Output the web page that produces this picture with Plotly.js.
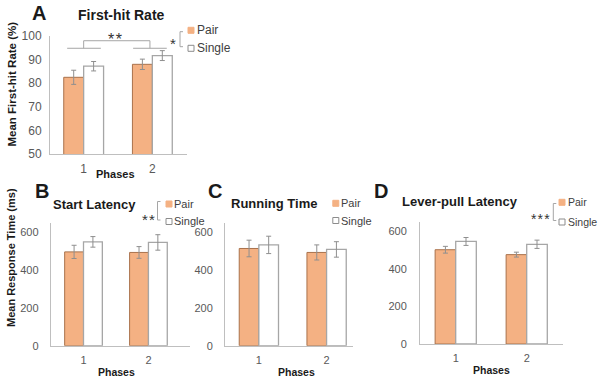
<!DOCTYPE html>
<html><head><meta charset="utf-8">
<script src="https://cdn.plot.ly/plotly-3.0.1.min.js"></script>
<style>html,body{margin:0;padding:0;background:#fff}</style>
</head><body><div id="chart" style="width:600px;height:378px"></div>
<script>
// ---- data ----
const phases = ['1', '2'];
const seriesNames = ['Pair', 'Single'];
// A: First-hit Rate (%)
const firstHitPair = [82.5, 88.0];
const firstHitPairErr = [3.0, 2.2];
const firstHitSingle = [87.2, 91.7];
const firstHitSingleErr = [2.0, 2.1];
// B: Start Latency (ms)
const startPair = [497, 494];
const startPairErr = [35, 31];
const startSingle = [550, 547];
const startSingleErr = [28, 41];
// C: Running Time (ms)
const runPair = [515, 494];
const runPairErr = [44, 40];
const runSingle = [534, 510];
const runSingleErr = [46, 41];
// D: Lever-pull Latency (ms)
const leverPair = [501, 475];
const leverPairErr = [18, 13];
const leverSingle = [545, 530];
const leverSingleErr = [21, 22];

// ---- styles ----
const FONT = 'Liberation Sans, Arial, sans-serif';
const PAIR_FILL = '#F4B183';
const PAIR_LINE = '#A9724C';
const SINGLE_LINE = '#A6A6A6';
const ERR = '#8F8F8F';
const AX = '#BFBFBF';
const TICK = '#595959';

const W = 600, H = 378;
const px = v => v / W;
const py = v => 1 - v / H;

function bars(n, pair, pairErr, single, singleErr) {
  const xa = 'x' + (n === 1 ? '' : n), ya = 'y' + (n === 1 ? '' : n);
  return [
    {type: 'bar', x: phases, y: pair, name: seriesNames[0], xaxis: xa, yaxis: ya, showlegend: false,
     marker: {color: PAIR_FILL, line: {color: PAIR_LINE, width: 1}},
     error_y: {type: 'data', array: pairErr, visible: true, color: ERR, thickness: 1, width: 2.5}},
    {type: 'bar', x: phases, y: single, name: seriesNames[1], xaxis: xa, yaxis: ya, showlegend: false,
     marker: {color: '#FFFFFF', line: {color: SINGLE_LINE, width: 1.3}},
     error_y: {type: 'data', array: singleErr, visible: true, color: ERR, thickness: 1, width: 2.5}}
  ];
}

const data = [
  ...bars(1, firstHitPair, firstHitPairErr, firstHitSingle, firstHitSingleErr),
  ...bars(2, startPair, startPairErr, startSingle, startSingleErr),
  ...bars(3, runPair, runPairErr, runSingle, runSingleErr),
  ...bars(4, leverPair, leverPairErr, leverSingle, leverSingleErr)
];

function xAxis(x0, x1, range, anchor, fs) {
  return {domain: [px(x0), px(x1)], anchor: anchor, type: 'category', range: range,
    showline: true, linecolor: AX, linewidth: 1, ticks: '', showgrid: false, zeroline: false,
    tickfont: {family: FONT, size: fs, color: TICK}, ticklabelstandoff: 4, fixedrange: true};
}
function yAxis(yTop, yBot, range, dtick, anchor, fs, standoff) {
  return {domain: [py(yBot), py(yTop)], anchor: anchor, range: range, dtick: dtick,
    showline: true, linecolor: AX, linewidth: 1, ticks: '', showgrid: false, zeroline: false,
    tickfont: {family: FONT, size: fs, color: TICK}, ticklabelstandoff: standoff, fixedrange: true};
}

function txt(x, y, text, size, opts) {
  return Object.assign({xref: 'paper', yref: 'paper', x: px(x), y: py(y), text: text,
    showarrow: false, xanchor: 'center', yanchor: 'middle',
    font: {family: FONT, size: size, color: '#1A1A1A'}}, opts || {});
}
function legText(x, y, text, size) {
  return txt(x - 1, y, text, size, {xanchor: 'left', font: {family: FONT, size: size, color: '#404040'}});
}
function star(x, y, text, size) {
  return txt(x, y, text, size, {yshift: -0.28 * size, font: {family: FONT, size: size, color: '#333333'}});
}

const annotations = [
  // panel letters
  txt(39, 13, '<b>A</b>', 20), txt(42, 191, '<b>B</b>', 20),
  txt(215, 191, '<b>C</b>', 20), txt(381, 191, '<b>D</b>', 20),
  // titles
  txt(121, 15, '<b>First-hit Rate</b>', 14),
  txt(94, 204, '<b>Start Latency</b>', 13),
  txt(274, 203, '<b>Running Time</b>', 13),
  txt(460, 201, '<b>Lever-pull Latency</b>', 13),
  // x titles
  txt(115, 174, '<b>Phases</b>', 11),
  txt(116.5, 371.5, '<b>Phases</b>', 10.5),
  txt(296.5, 371.5, '<b>Phases</b>', 10.5),
  txt(492, 370, '<b>Phases</b>', 10.5),
  // y titles
  txt(11.5, 84, '<b>Mean First-hit Rate (%)</b>', 11.5, {textangle: -90}),
  txt(10.5, 257.5, '<b>Mean Response Time (ms)</b>', 11, {textangle: -90}),
  // legends
  legText(196.5, 30.3, seriesNames[0], 12), legText(196.5, 48.3, seriesNames[1], 12),
  legText(173.3, 204, seriesNames[0], 11), legText(173.3, 221.5, seriesNames[1], 11),
  legText(340, 203.3, seriesNames[0], 11), legText(340, 220.5, seriesNames[1], 11),
  legText(566.5, 202.3, seriesNames[0], 10.5), legText(566.5, 222, seriesNames[1], 10.5),
  // significance
  star(115, 35, '*<span style="font-size:5px"> </span>*', 16),
  star(172.7, 39.3, '*', 15),
  star(148.3, 215, '*<span style="font-size:4px"> </span>*', 15),
  star(540.5, 215, '*<span style="font-size:4px"> </span>*<span style="font-size:4px"> </span>*', 14)
];

function sq(cx, cy, fill, line) {
  return {type: 'rect', xref: 'paper', yref: 'paper', x0: px(cx - 3), x1: px(cx + 3),
    y0: py(cy + 3), y1: py(cy - 3), fillcolor: fill, line: {color: line, width: 1}};
}
function pline(x0, y0, x1, y1) {
  return {type: 'line', xref: 'paper', yref: 'paper', x0: px(x0), y0: py(y0), x1: px(x1), y1: py(y1),
    line: {color: SINGLE_LINE, width: 1}};
}
function dline(x0, y0, x1, y1) {
  return {type: 'line', xref: 'x', yref: 'y', x0: x0, y0: y0, x1: x1, y1: y1,
    line: {color: SINGLE_LINE, width: 1}};
}
function lbracket(x, yTop, yBot) {
  return [pline(x, yTop, x, yBot), pline(x, yTop, x + 3, yTop), pline(x, yBot, x + 3, yBot)];
}

const shapes = [
  // legend squares
  sq(191, 30.3, PAIR_FILL, PAIR_FILL), sq(191, 48.3, '#FFFFFF', '#8C8C8C'),
  sq(169, 204, PAIR_FILL, PAIR_FILL), sq(169, 221.5, '#FFFFFF', '#8C8C8C'),
  sq(335.8, 203.3, PAIR_FILL, PAIR_FILL), sq(335.8, 220.5, '#FFFFFF', '#8C8C8C'),
  sq(562, 202.3, PAIR_FILL, PAIR_FILL), sq(562, 222, '#FFFFFF', '#8C8C8C'),
  // legend brackets
  ...lbracket(180, 31.7, 46.7),
  ...lbracket(157.5, 201.5, 220),
  ...lbracket(553.3, 203.5, 220.5),
  // phase comparison bracket in panel A
  dline(-0.24, 94.8, 0.25, 94.8),
  dline(0.72, 94.8, 1.21, 94.8),
  dline(0.0, 94.8, 0.0, 98.0),
  dline(0.965, 94.8, 0.965, 98.0),
  dline(0.0, 98.0, 0.965, 98.0)
];

const layout = {
  width: W, height: H,
  margin: {l: 0, r: 0, t: 0, b: 0},
  paper_bgcolor: '#FFFFFF', plot_bgcolor: 'rgba(0,0,0,0)',
  showlegend: false,
  barmode: 'group', bargap: 0.42, bargroupgap: 0,
  font: {family: FONT},
  xaxis:  xAxis(50, 186.7, [-0.49, 1.5], 'y', 12),
  yaxis:  yAxis(36, 154, [50, 100], 10, 'x', 12, 5),
  xaxis2: xAxis(50.7, 190, [-0.505, 1.64], 'y2', 11),
  yaxis2: yAxis(223, 345.7, [0, 650], 200, 'x2', 11, 9),
  xaxis3: xAxis(225, 353, [-0.5, 1.39], 'y3', 11),
  yaxis3: yAxis(223, 345.7, [0, 650], 200, 'x3', 11, 9),
  xaxis4: xAxis(420, 562.7, [-0.503, 1.507], 'y4', 11),
  yaxis4: yAxis(221.7, 344, [0, 650], 200, 'x4', 11, 10),
  annotations: annotations,
  shapes: shapes
};

Plotly.newPlot('chart', data, layout, {displayModeBar: false, staticPlot: true});
</script>
</body></html>
